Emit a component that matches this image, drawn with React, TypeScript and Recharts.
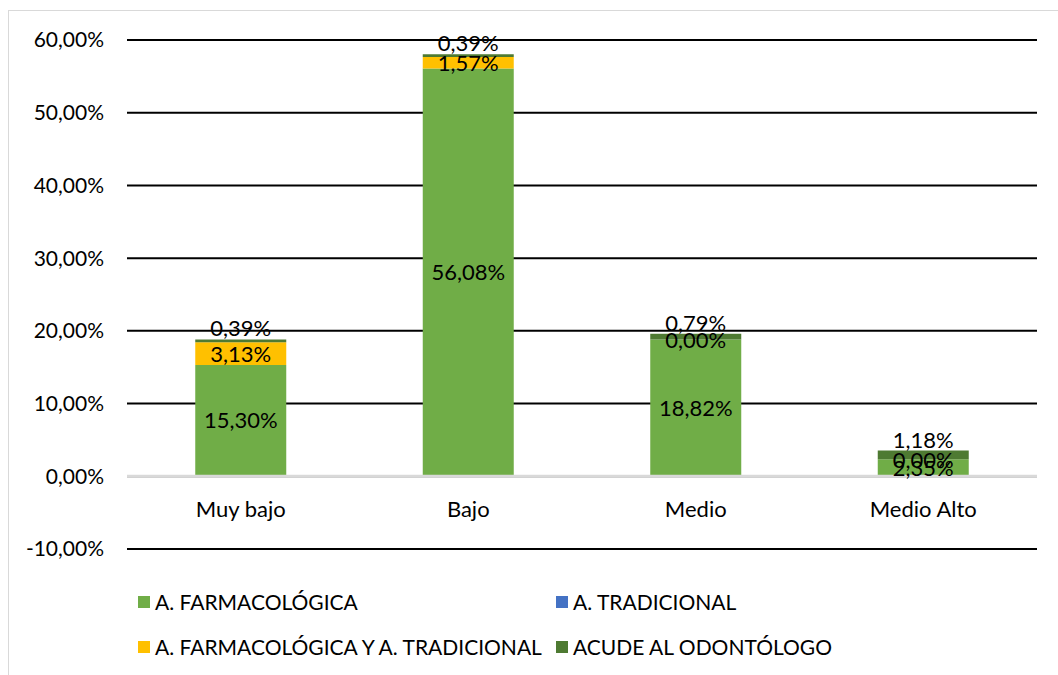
import {
	Bar,
	BarChart,
	CartesianGrid,
	LabelList,
	Legend,
	ReferenceLine,
	XAxis,
	YAxis,
} from "recharts";

const categories = ["Muy bajo", "Bajo", "Medio", "Medio Alto"];
const farmacologica = [15.3, 56.08, 18.82, 2.35];
const tradicional = [0, 0, 0, 0];
const farmYTrad = [3.13, 1.57, 0, 0];
const odontologo = [0.39, 0.39, 0.79, 1.18];
const yTicks = [-10, 0, 10, 20, 30, 40, 50, 60];

const series = [
	{ key: "farm", name: "A. FARMACOLÓGICA", color: "#70AD47" },
	{ key: "trad", name: "A. TRADICIONAL", color: "#4472C4" },
	{ key: "farmTrad", name: "A. FARMACOLÓGICA Y A. TRADICIONAL", color: "#FFC000" },
	{ key: "odonto", name: "ACUDE AL ODONTÓLOGO", color: "#4E7A32" },
];

const data = categories.map((name, i) => ({
	name,
	farm: farmacologica[i],
	trad: tradicional[i],
	farmTrad: farmYTrad[i],
	odonto: odontologo[i],
}));

const FONT = "Lato, 'Open Sans', sans-serif";
const pct = (v: any) => `${Number(v).toFixed(2).replace(".", ",")}%`;

const CategoryTick = ({ x, y, payload }: any) => (
	<text
		x={x}
		y={y}
		dy={-46}
		textAnchor="middle"
		dominantBaseline="middle"
		fontSize={22}
		fontFamily={FONT}
		fill="#000"
	>
		{payload.value}
	</text>
);

// yellow segment labels, placed from the green bar geometry so that
// zero-height segments (which recharts skips) still get their "0,00%"
const FarmTradLabel = ({ x, y, width, height, index }: any) => {
	const base = farmacologica[index];
	const v = farmYTrad[index];
	const unit = base ? height / base : 0;
	return (
		<text
			x={x + width / 2}
			y={y - (v * unit) / 2}
			textAnchor="middle"
			dominantBaseline="central"
			fontSize={22}
			fontFamily={FONT}
			fill="#000"
		>
			{pct(v)}
		</text>
	);
};

const LegendBox = () => (
	<div
		style={{
			display: "grid",
			gridTemplateColumns: "418px 420px",
			rowGap: 20,
			fontFamily: FONT,
			fontSize: 21,
			color: "#000",
		}}
	>
		{series.map((s) => (
			<div key={s.key} style={{ display: "flex", alignItems: "center", height: 25 }}>
				<span
					style={{
						width: 12,
						height: 12,
						background: s.color,
						display: "inline-block",
						marginRight: 5,
					}}
				/>
				<span style={{ whiteSpace: "nowrap" }}>{s.name}</span>
			</div>
		))}
	</div>
);

export default function App() {
	return (
		<div
			style={{
				position: "absolute",
				left: 0,
				top: 0,
				width: 1058,
				height: 675,
				overflow: "hidden",
				background: "#fff",
			}}
		>
			<div
				style={{
					position: "absolute",
					left: 8,
					top: 10,
					width: 1100,
					height: 720,
					border: "1px solid #d9d9d9",
				}}
			/>
			<div style={{ position: "absolute", left: 0, top: 0 }}>
				<BarChart
					width={1058}
					height={675}
					data={data}
					margin={{ top: 40, right: 21, left: 0, bottom: 96 }}
					barCategoryGap="30%"
				>
					<CartesianGrid vertical={false} stroke="#000" strokeWidth={2} />
					<XAxis
						dataKey="name"
						axisLine={false}
						tickLine={false}
						height={30}
						tick={<CategoryTick />}
					/>
					<YAxis
						width={127}
						domain={[-10, 60]}
						ticks={yTicks}
						axisLine={false}
						tickLine={false}
						tickMargin={17}
						tickFormatter={pct}
						tick={{ fontSize: 21, fontFamily: FONT, fill: "#000" }}
					/>
					<ReferenceLine y={0} stroke="#d9d9d9" strokeWidth={3} />
					<Bar dataKey="farm" name={series[0].name} stackId="a" fill={series[0].color} isAnimationActive={false}>
						<LabelList
							dataKey="farm"
							position="center"
							formatter={pct}
							fill="#000"
							fontSize={22}
							fontFamily={FONT}
						/>
						<LabelList dataKey="farmTrad" content={<FarmTradLabel />} />
					</Bar>
					<Bar dataKey="trad" name={series[1].name} stackId="a" fill={series[1].color} isAnimationActive={false} />
					<Bar dataKey="farmTrad" name={series[2].name} stackId="a" fill={series[2].color} isAnimationActive={false} />
					<Bar dataKey="odonto" name={series[3].name} stackId="a" fill={series[3].color} isAnimationActive={false}>
						<LabelList
							dataKey="odonto"
							position="top"
							offset={3}
							formatter={pct}
							fill="#000"
							fontSize={22}
							fontFamily={FONT}
						/>
					</Bar>
					<Legend
						layout="horizontal"
						verticalAlign="middle"
						content={<LegendBox />}
						wrapperStyle={{ left: 138, top: 589, width: 860 }}
					/>
				</BarChart>
			</div>
		</div>
	);
}
